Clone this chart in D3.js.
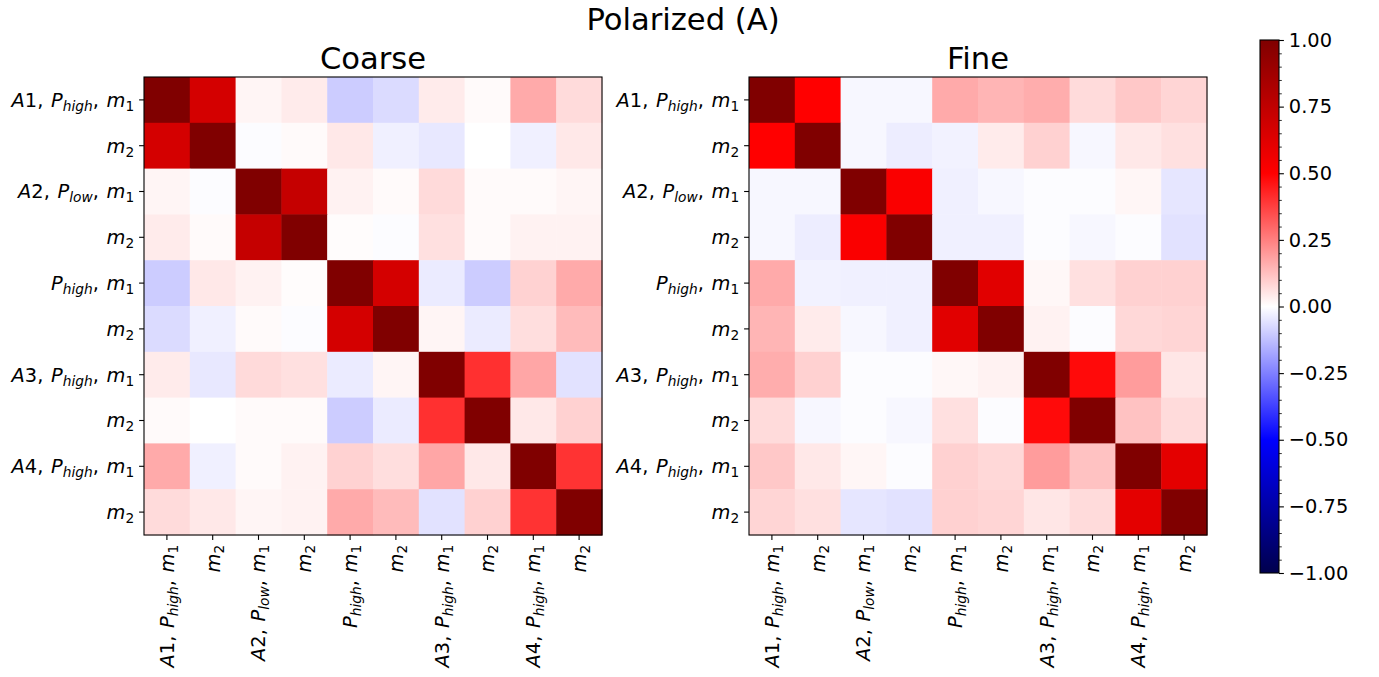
<!DOCTYPE html>
<html>
<head>
<meta charset="utf-8">
<script src="https://cdn.jsdelivr.net/npm/d3@7"></script>
<style>
  html, body { margin: 0; padding: 0; background: #fff; }
  svg { display: block; font-family: "DejaVu Sans", sans-serif; }
</style>
</head>
<body>
<svg id="chart" width="1379" height="677"></svg>
<script>
// Row / column labels (mathtext-like: _{..} marks a subscript)
const labels = [
  "A1, P_{high}, m_1", "m_2",
  "A2, P_{low}, m_1", "m_2",
  "P_{high}, m_1", "m_2",
  "A3, P_{high}, m_1", "m_2",
  "A4, P_{high}, m_1", "m_2"
];

// Correlation matrix, coarse level
const coarse = [
  [1.00, 0.67, 0.02, 0.04, -0.10, -0.07, 0.04, 0.01, 0.167, 0.07],
  [0.67, 1.00, -0.005, 0.01, 0.045, -0.03, -0.045, 0.00, -0.03, 0.045],
  [0.02, -0.005, 1.00, 0.73, 0.025, 0.01, 0.073, 0.01, 0.01, 0.02],
  [0.04, 0.01, 0.73, 1.00, 0.005, -0.005, 0.06, 0.01, 0.025, 0.025],
  [-0.10, 0.045, 0.025, 0.005, 1.00, 0.67, -0.04, -0.10, 0.088, 0.167],
  [-0.07, -0.03, 0.01, -0.005, 0.67, 1.00, 0.02, -0.04, 0.065, 0.133],
  [0.04, -0.045, 0.073, 0.06, -0.04, 0.02, 1.00, 0.406, 0.175, -0.057],
  [0.01, 0.00, 0.01, 0.01, -0.10, -0.04, 0.406, 1.00, 0.045, 0.09],
  [0.167, -0.03, 0.01, 0.025, 0.088, 0.065, 0.175, 0.045, 1.00, 0.40],
  [0.07, 0.045, 0.02, 0.025, 0.167, 0.133, -0.057, 0.09, 0.40, 1.00]
];

// Correlation matrix, fine level
const fine = [
  [1.00, 0.50, -0.015, -0.015, 0.167, 0.145, 0.16, 0.07, 0.108, 0.082],
  [0.50, 1.00, -0.015, -0.035, -0.025, 0.04, 0.09, -0.015, 0.045, 0.06],
  [-0.015, -0.015, 1.00, 0.52, -0.03, -0.015, -0.005, -0.005, 0.018, -0.05],
  [-0.015, -0.035, 0.52, 1.00, -0.03, -0.03, -0.005, -0.015, -0.005, -0.057],
  [0.167, -0.025, -0.03, -0.03, 1.00, 0.62, 0.015, 0.06, 0.09, 0.09],
  [0.145, 0.04, -0.015, -0.03, 0.62, 1.00, 0.025, -0.005, 0.076, 0.082],
  [0.16, 0.09, -0.005, -0.005, 0.015, 0.025, 1.00, 0.48, 0.194, 0.05],
  [0.07, -0.015, -0.005, -0.015, 0.06, -0.005, 0.48, 1.00, 0.12, 0.07],
  [0.108, 0.045, 0.018, -0.005, 0.09, 0.076, 0.194, 0.12, 1.00, 0.606],
  [0.082, 0.06, -0.05, -0.057, 0.09, 0.082, 0.05, 0.07, 0.606, 1.00]
];

const panelTitles = ["Coarse", "Fine"];
const suptitle = "Polarized (A)";
const cbarTicks = [-1, -0.75, -0.5, -0.25, 0, 0.25, 0.5, 0.75, 1];
const cbarMinorTicks = d3.range(-20, 21).map(i => i * 0.05);

// matplotlib "seismic" colormap (piecewise linear in RGB)
const seismicStops = [-1, -0.5, 0, 0.5, 1];
const seismicColors = ["rgb(0,0,77)", "rgb(0,0,255)", "rgb(255,255,255)", "rgb(255,0,0)", "rgb(128,0,0)"];
const color = d3.scaleLinear().domain(seismicStops).range(seismicColors)
  .interpolate(d3.interpolateRgb).clamp(true);

const svg = d3.select("#chart");
const tickFont = 19.4;
const titleFont = 30.6;
const supFont = 30.6;

// Render a label string with italic letters and subscripts
function mathLabel(textSel, str, fs) {
  const runs = [];
  let i = 0;
  const push = (txt, sub) => {
    for (const ch of txt) {
      const italic = /[A-Za-z]/.test(ch);
      const last = runs[runs.length - 1];
      if (last && last.sub === sub && last.italic === italic && ch !== " ") last.t += ch;
      else runs.push({ t: ch, sub, italic, space: ch === " " });
    }
  };
  while (i < str.length) {
    const ch = str[i];
    if (ch === "_") {
      if (str[i + 1] === "{") {
        const j = str.indexOf("}", i);
        push(str.slice(i + 2, j), true);
        i = j + 1;
      } else {
        push(str[i + 1], true);
        i += 2;
      }
    } else {
      push(ch, false);
      i++;
    }
  }
  let shifted = false;
  const subOff = 0.2 * fs;
  runs.forEach(r => {
    const ts = textSel.append("tspan").text(r.t)
      .attr("font-style", r.italic ? "italic" : "normal")
      .attr("font-size", r.sub ? fs * 0.71 : fs);
    if (r.space) ts.attr("dx", 1.5);
    if (r.sub && !shifted) { ts.attr("dy", subOff); shifted = true; }
    else if (!r.sub && shifted) { ts.attr("dy", -subOff); shifted = false; }
  });
  textSel.style("white-space", "pre");
}

const panelLeft = [144, 749];
const panelTop = 77;
const panelSize = 458;
const idx = d3.range(labels.length);

[coarse, fine].forEach((mat, p) => {
  const g = svg.append("g").attr("transform", `translate(${panelLeft[p]},${panelTop})`);
  const x = d3.scaleBand().domain(idx).range([0, panelSize]);
  const y = d3.scaleBand().domain(idx).range([0, panelSize]);

  const cells = [];
  mat.forEach((row, r) => row.forEach((v, c) => cells.push({ r, c, v })));
  g.selectAll("rect.cell").data(cells).join("rect")
    .attr("class", "cell")
    .attr("x", d => x(d.c)).attr("y", d => y(d.r))
    .attr("width", x.bandwidth() + 0.5).attr("height", y.bandwidth() + 0.5)
    .attr("fill", d => color(d.v));

  g.append("rect").attr("width", panelSize).attr("height", panelSize)
    .attr("fill", "none").attr("stroke", "#000").attr("stroke-width", 1.1);

  // y ticks
  idx.forEach(i => {
    const cy = y(i) + y.bandwidth() / 2;
    g.append("line").attr("x1", -4.9).attr("x2", 0).attr("y1", cy).attr("y2", cy)
      .attr("stroke", "#000").attr("stroke-width", 1.1);
    const t = g.append("text").attr("x", -9.8).attr("y", cy + 0.36 * tickFont)
      .attr("text-anchor", "end").attr("fill", "#000");
    mathLabel(t, labels[i], tickFont);
  });
  // x ticks
  idx.forEach(i => {
    const cx = x(i) + x.bandwidth() / 2;
    g.append("line").attr("x1", cx).attr("x2", cx).attr("y1", panelSize).attr("y2", panelSize + 4.9)
      .attr("stroke", "#000").attr("stroke-width", 1.1);
    const t = g.append("text")
      .attr("transform", `translate(${cx + 0.36 * tickFont},${panelSize + 9.8}) rotate(-90)`)
      .attr("text-anchor", "end").attr("fill", "#000");
    mathLabel(t, labels[i], tickFont);
  });

  svg.append("text").attr("x", panelLeft[p] + panelSize / 2).attr("y", panelTop - 8.5)
    .attr("text-anchor", "middle").attr("font-size", titleFont).text(panelTitles[p]);
});

svg.append("text").attr("x", 683).attr("y", 30)
  .attr("text-anchor", "middle").attr("font-size", supFont).text(suptitle);

// Colorbar
const cbX = 1260, cbW = 19, cbTop = 40, cbBottom = 573;
const cy = d3.scaleLinear().domain([-1, 1]).range([cbBottom, cbTop]);
const grad = svg.append("defs").append("linearGradient").attr("id", "seismic")
  .attr("x1", 0).attr("y1", 1).attr("x2", 0).attr("y2", 0);
seismicStops.forEach((s, i) => grad.append("stop")
  .attr("offset", (s + 1) / 2).attr("stop-color", seismicColors[i]));
svg.append("rect").attr("x", cbX).attr("y", cbTop).attr("width", cbW).attr("height", cbBottom - cbTop)
  .attr("fill", "url(#seismic)").attr("stroke", "#000").attr("stroke-width", 1.1);

const cbAxis = d3.axisRight(cy).tickValues(cbarTicks).tickSize(4.9).tickPadding(4.9)
  .tickFormat(d => d3.format(".2f")(d).replace("-", "\u2212"));
const ag = svg.append("g").attr("transform", `translate(${cbX + cbW},0)`).call(cbAxis);
ag.select(".domain").remove();
ag.selectAll("text").attr("font-size", tickFont).attr("font-family", "DejaVu Sans").attr("fill", "#000");
ag.selectAll("line").attr("stroke", "#000").attr("stroke-width", 1.1);
const minorAxis = d3.axisRight(cy).tickValues(cbarMinorTicks.filter(v => !cbarTicks.some(m => Math.abs(m - v) < 1e-9)))
  .tickSize(2.8).tickFormat("");
const mg = svg.append("g").attr("transform", `translate(${cbX + cbW},0)`).call(minorAxis);
mg.select(".domain").remove();
mg.selectAll("line").attr("stroke", "#000").attr("stroke-width", 0.8);
</script>
</body>
</html>
